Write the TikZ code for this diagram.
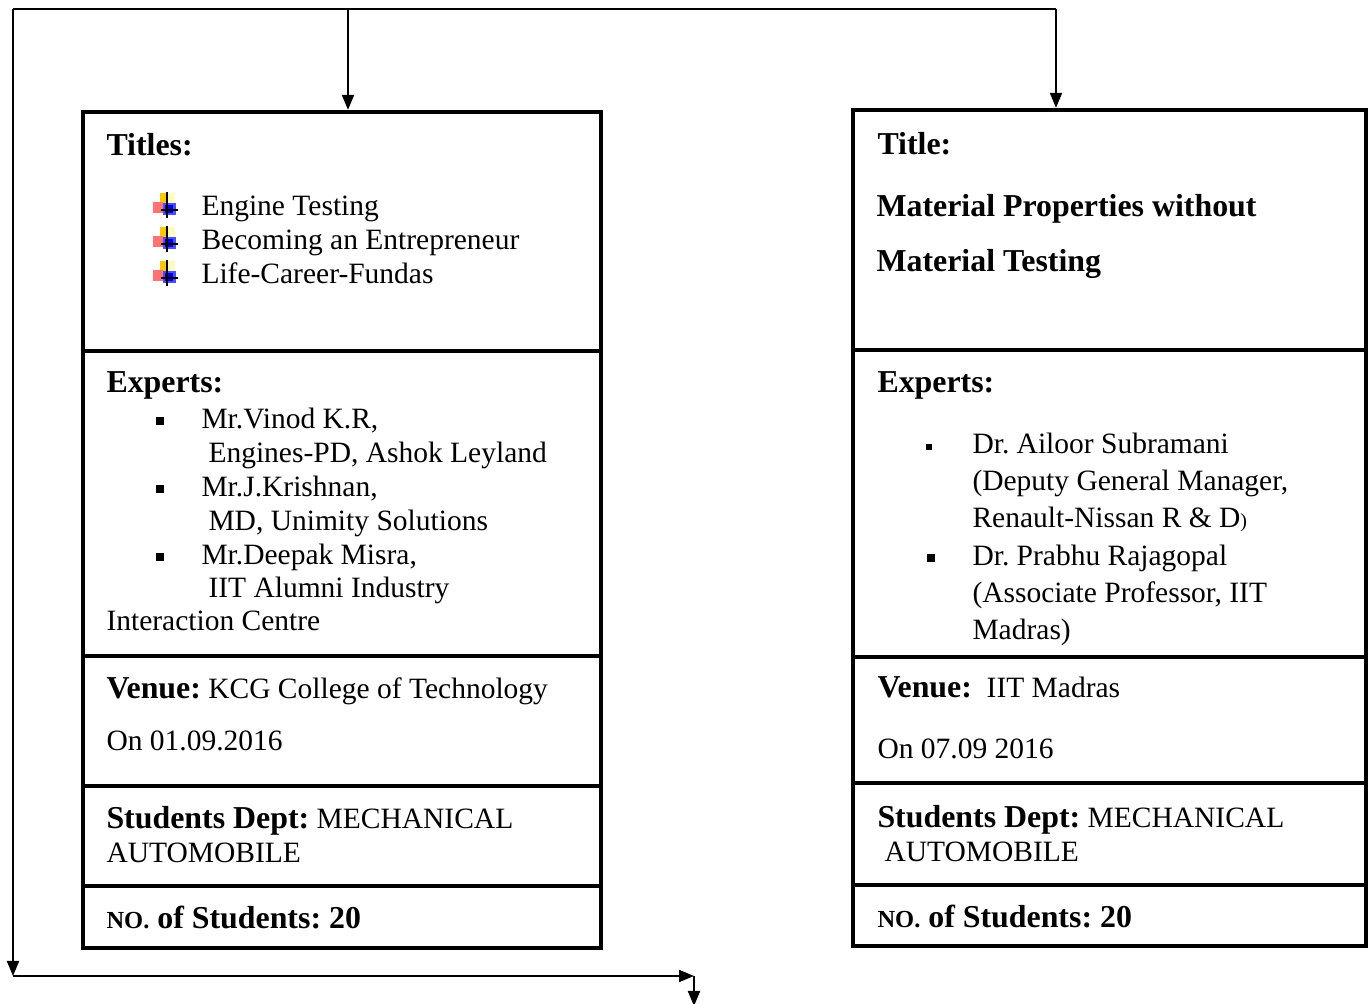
\documentclass[tikz,border=0pt]{standalone}
\usepackage{fontspec}
\setmainfont{Liberation Serif}
\usetikzlibrary{arrows.meta}
\frenchspacing

\newcommand{\hd}[1]{{\fontsize{12.75}{14}\selectfont\bfseries #1}}
\newcommand{\nolabel}{\hd{{\fontsize{9.8}{10}\selectfont NO.} of Students: 20}}

\tikzset{
  flow/.style={line width=0.8pt, -{Triangle[length=6pt,width=4.8pt]}},
  panel/.style={draw, line width=1.7pt, inner sep=0pt},
  divider/.style={line width=1.3pt},
  txt/.style={anchor=base west, inner sep=0pt, font=\fontsize{11.8}{13.6}\selectfont},
  sqbullet/.style={fill, inner sep=0pt, minimum size=3.2pt},
  plusicon/.pic={
    \fill[yellow!25] (0,1) rectangle (8,12);
    \fill[yellow!60!orange] (-7,1) rectangle (0,12);
    \fill[red!55] (-14,10) rectangle (-4,21);
    \fill[blue!70] (-4,11) rectangle (9,23);
    \fill[blue!90!black] (-2,13) rectangle (6,21);
    \draw[line width=0.9pt] (0,0) -- (0,26);
    \draw[line width=0.9pt] (-6,18) -- (11,18);
  }
}

\begin{document}
\begin{tikzpicture}[x=0.4pt,y=-0.4pt]
    \useasboundingbox (0,0) rectangle (1369,1004);

    % the two panels
    \node[panel, minimum width=207.2pt, minimum height=334.4pt] (lpanel) at (342,530) {};
    \node[panel, minimum width=205.2pt, minimum height=334.4pt] (rpanel) at (1109.5,528) {};
    \draw[divider] (lpanel.west |- 0,351) -- (lpanel.east |- 0,351);
    \draw[divider] (lpanel.west |- 0,656) -- (lpanel.east |- 0,656);
    \draw[divider] (lpanel.west |- 0,786) -- (lpanel.east |- 0,786);
    \draw[divider] (lpanel.west |- 0,886) -- (lpanel.east |- 0,886);
    \draw[divider] (rpanel.west |- 0,350) -- (rpanel.east |- 0,350);
    \draw[divider] (rpanel.west |- 0,657) -- (rpanel.east |- 0,657);
    \draw[divider] (rpanel.west |- 0,783) -- (rpanel.east |- 0,783);
    \draw[divider] (rpanel.west |- 0,885) -- (rpanel.east |- 0,885);

    % connectors
    \coordinate (tl) at (13,9);
    \coordinate (ltop) at (348,9);
    \coordinate (tr) at (1056,9);
    \coordinate (bl) at (13,976);
    \coordinate (br) at (694,976);
    \coordinate (out) at (694,1006);
    \draw[line width=0.8pt] (tl) -- (tr);
    \draw[flow] (ltop) -- (ltop |- lpanel.north);
    \draw[flow] (tr) -- (tr |- rpanel.north);
    \draw[flow] (tl) -- (bl);
    \draw[flow] (bl) -- (br);
    \draw[flow] (br) -- (out);

    % left panel
    \node[txt] (ltitle) at (106,156) {\hd{Titles:}};
    \pic at (167,192) {plusicon};
    \pic at (167,226) {plusicon};
    \pic at (167,260) {plusicon};
    \node[txt] (lt1) at (201,216) {Engine Testing};
    \node[txt] (lt2) at (201,250) {Becoming an Entrepreneur};
    \node[txt] (lt3) at (201,284) {Life-Career-Fundas};
    \node[txt] (lexp) at (106,393) {\hd{Experts:}};
    \node[sqbullet] (lb1) at (160,421) {};
    \node[sqbullet] (lb2) at (160,489) {};
    \node[sqbullet] (lb3) at (160,557) {};
    \node[txt] (le1) at (201,429) {Mr.Vinod K.R,};
    \node[txt] (le2) at (208,463) {Engines-PD, Ashok Leyland};
    \node[txt] (le3) at (201,497) {Mr.J.Krishnan,};
    \node[txt] (le4) at (208,531) {MD, Unimity Solutions};
    \node[txt] (le5) at (201,565) {Mr.Deepak Misra,};
    \node[txt] (le6) at (208,598) {IIT Alumni Industry};
    \node[txt] (le7) at (106,631) {Interaction Centre};
    \node[txt] (lven) at (106,699) {\hd{Venue:} KCG College of Technology};
    \node[txt] (ldate) at (106,751) {On 01.09.2016};
    \node[txt] (ldept) at (106,829) {\hd{Students Dept:} MECHANICAL};
    \node[txt] (ldept2) at (106,863) {AUTOMOBILE};
    \node[txt] (lno) at (106,929) {\nolabel};

    % right panel
    \node[txt] (rtitle) at (877,155) {\hd{Title:}};
    \node[txt] (rt1) at (876,217) {\hd{Material Properties without}};
    \node[txt] (rt2) at (876,272) {\hd{Material Testing}};
    \node[txt] (rexp) at (877,393) {\hd{Experts:}};
    \node[sqbullet, minimum size=2.2pt] (rb1) at (929,447) {};
    \node[sqbullet] (rb2) at (931,558) {};
    \node[txt] (re1) at (972,454) {Dr. Ailoor Subramani};
    \node[txt] (re2) at (972,491) {(Deputy General Manager,};
    \node[txt] (re3) at (972,528) {Renault-Nissan R \& D{\fontsize{8}{9}\selectfont)}};
    \node[txt] (re4) at (972,566) {Dr. Prabhu Rajagopal};
    \node[txt] (re5) at (972,603) {(Associate Professor, IIT};
    \node[txt] (re6) at (972,640) {Madras)};
    \node[txt] (rven) at (877,698) {\hd{Venue:}\ \ IIT Madras};
    \node[txt] (rdate) at (877,759) {On 07.09 2016};
    \node[txt] (rdept) at (877,828) {\hd{Students Dept:} MECHANICAL};
    \node[txt] (rdept2) at (884,862) {AUTOMOBILE};
    \node[txt] (rno) at (877,928) {\nolabel};
\end{tikzpicture}
\end{document}
